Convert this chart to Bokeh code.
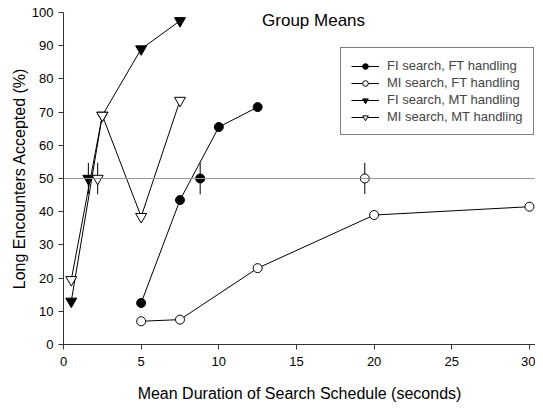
from bokeh.plotting import figure
from bokeh.models import Range1d, Span, Legend, LegendItem, Label, FixedTicker
from bokeh.embed import file_html
from bokeh.resources import INLINE

# ---- data ----
fi_ft_x = [5, 7.5, 10, 12.5]
fi_ft_y = [12.5, 43.5, 65.5, 71.5]
mi_ft_x = [5, 7.5, 12.5, 20, 30]
mi_ft_y = [7, 7.5, 23, 39, 41.5]
fi_mt_x = [0.5, 2.5, 5, 7.5]
fi_mt_y = [13, 69, 89, 97.5]
mi_mt_x = [0.5, 2.5, 5, 7.5]
mi_mt_y = [19.5, 69, 38.5, 73.5]

# indifference points (50 %) with error bars
ind_fi_ft = (8.8, 50, 4.8)
ind_mi_ft = (19.4, 50, 4.7)
ind_fi_mt = (1.6, 50, 4.7)
ind_mi_mt = (2.2, 50, 4.8)

labels = ["FI search, FT handling", "MI search, FT handling",
          "FI search, MT handling", "MI search, MT handling"]
x_ticks = [0, 5, 10, 15, 20, 25, 30]
y_ticks = [0, 10, 20, 30, 40, 50, 60, 70, 80, 90, 100]

FONT = "Liberation Sans"

p = figure(width=535, height=404, output_backend="svg", toolbar_location=None,
           x_range=Range1d(0, 30.39), y_range=Range1d(0, 100),
           min_border_left=63, min_border_right=0, min_border_top=12,
           min_border_bottom=54)
p.outline_line_color = None
p.xgrid.visible = False
p.ygrid.visible = False
p.background_fill_color = "white"

for ax in (p.xaxis[0], p.yaxis[0]):
    ax.major_tick_out = 5
    ax.major_tick_in = 0
    ax.minor_tick_line_color = None
    ax.axis_line_color = "#333333"
    ax.major_tick_line_color = "#333333"
    ax.major_label_text_font = FONT
    ax.major_label_text_font_size = "13px"
    ax.major_label_text_color = "black"
    ax.axis_label_text_font = FONT
    ax.axis_label_text_font_size = "16px"
    ax.axis_label_text_font_style = "normal"
    ax.axis_label_text_color = "black"

p.xaxis.ticker = FixedTicker(ticks=x_ticks)
p.yaxis.ticker = FixedTicker(ticks=y_ticks)
p.xaxis.axis_label = "Mean Duration of Search Schedule (seconds)"
p.yaxis.axis_label = "Long Encounters Accepted (%)"
p.xaxis.major_label_standoff = 7
p.xaxis.axis_label_standoff = 16
p.yaxis.major_label_standoff = 5
p.yaxis.axis_label_standoff = 1

p.add_layout(Span(location=50, dimension="width", line_color="#999999", line_width=1))

# error bars
for (ix, iy, ie) in (ind_fi_ft, ind_mi_ft, ind_fi_mt, ind_mi_mt):
    p.segment(x0=[ix], y0=[iy - ie], x1=[ix], y1=[iy + ie], line_color="black", line_width=1)

series = [
    (fi_ft_x, fi_ft_y, "circle", "black", 9, ind_fi_ft),
    (mi_ft_x, mi_ft_y, "circle", "white", 9, ind_mi_ft),
    (fi_mt_x, fi_mt_y, "inverted_triangle", "black", 11, ind_fi_mt),
    (mi_mt_x, mi_mt_y, "inverted_triangle", "white", 11, ind_mi_mt),
]

items = []
for (xs, ys, mk, fill, sz, ind), lab in zip(series, labels):
    lr = p.line(xs, ys, line_color="black", line_width=1)
    sr = p.scatter(xs, ys, marker=mk, size=sz, fill_color=fill, line_color="black", line_width=1)
    p.scatter([ind[0]], [ind[1]], marker=mk, size=sz, fill_color=fill, line_color="black", line_width=1)
    items.append(LegendItem(label=lab, renderers=[lr, sr]))

legend = Legend(items=items, location=(277, 209), orientation="vertical",
                border_line_color="black", border_line_width=1,
                background_fill_color="white", background_fill_alpha=1,
                label_text_font=FONT, label_text_font_size="13px",
                glyph_width=28, glyph_height=14, label_height=14,
                label_standoff=8, spacing=2, padding=10, margin=0)
p.add_layout(legend, "center")

p.add_layout(Label(x=16.1, y=97.6, text="Group Means", text_font=FONT,
                   text_font_size="17px", text_align="center", text_baseline="middle",
                   text_color="black"))

open("out.html", "w").write(file_html(p, INLINE))
